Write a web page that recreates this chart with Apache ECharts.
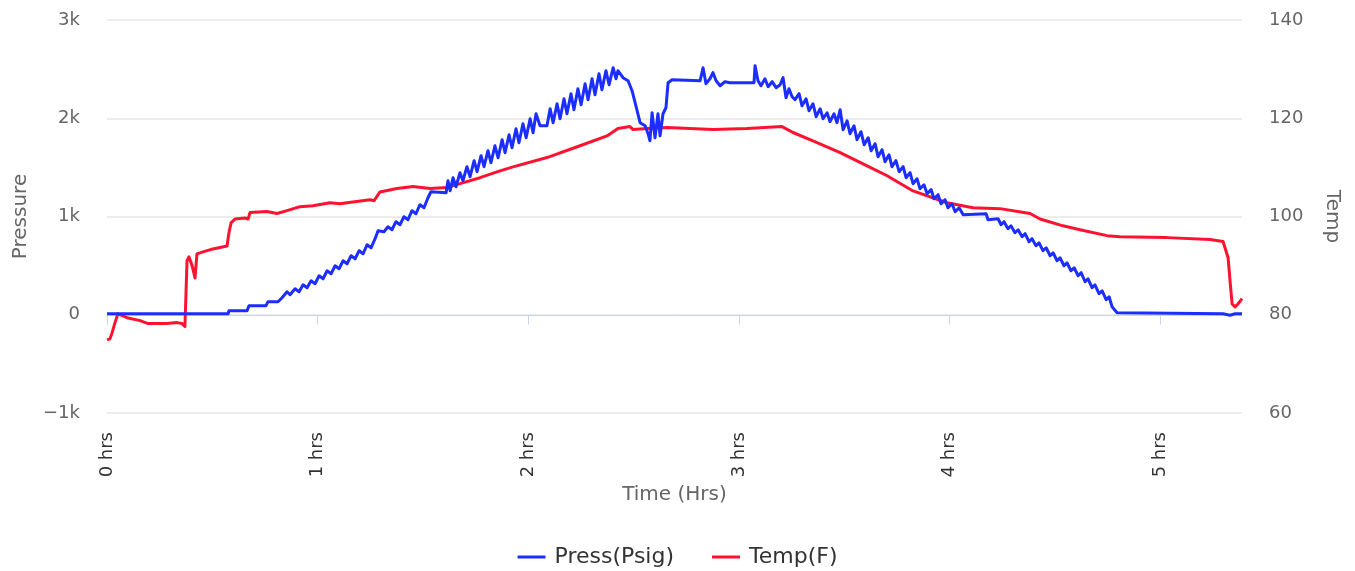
<!DOCTYPE html>
<html>
<head>
<meta charset="utf-8">
<script src="https://cdn.jsdelivr.net/npm/echarts@6/dist/echarts.min.js"></script>
<style>
html,body{margin:0;padding:0;background:#fff;}
#chart{width:1355px;height:571px;}
</style>
</head>
<body>
<div id="chart"></div>
<script>
// ---- data (time in hours) ----
const pressTime = [0,0.575,0.579,0.665,0.674,0.755,0.764,0.812,0.831,0.855,0.869,0.893,0.912,0.931,0.950,0.969,0.988,1.007,1.026,1.045,1.064,1.083,1.102,1.121,1.140,1.159,1.178,1.197,1.216,1.235,1.254,1.273,1.287,1.315,1.334,1.353,1.372,1.391,1.410,1.429,1.448,1.467,1.486,1.505,1.524,1.538,1.610,1.619,1.629,1.643,1.657,1.676,1.690,1.709,1.724,1.743,1.757,1.776,1.790,1.809,1.823,1.842,1.857,1.876,1.890,1.909,1.923,1.942,1.956,1.975,1.990,2.009,2.023,2.037,2.056,2.089,2.104,2.118,2.137,2.151,2.170,2.184,2.203,2.217,2.236,2.251,2.270,2.284,2.303,2.317,2.336,2.350,2.369,2.384,2.403,2.417,2.426,2.450,2.474,2.493,2.517,2.531,2.555,2.569,2.578,2.588,2.602,2.616,2.626,2.640,2.654,2.664,2.683,2.816,2.830,2.844,2.863,2.877,2.892,2.911,2.934,2.958,3.072,3.077,3.091,3.105,3.124,3.139,3.158,3.177,3.196,3.210,3.224,3.238,3.253,3.267,3.286,3.300,3.319,3.333,3.352,3.367,3.386,3.400,3.419,3.433,3.452,3.466,3.481,3.495,3.514,3.528,3.547,3.561,3.580,3.595,3.614,3.628,3.647,3.661,3.680,3.694,3.713,3.727,3.746,3.761,3.780,3.794,3.813,3.827,3.846,3.860,3.879,3.894,3.913,3.927,3.946,3.960,3.979,3.993,4.012,4.027,4.046,4.065,4.174,4.183,4.231,4.245,4.259,4.278,4.292,4.311,4.326,4.345,4.359,4.378,4.392,4.411,4.425,4.444,4.459,4.478,4.492,4.511,4.525,4.544,4.558,4.577,4.592,4.611,4.625,4.644,4.658,4.677,4.691,4.710,4.725,4.744,4.758,4.772,4.796,5.299,5.332,5.356,5.389];
const pressVal = [10,10,41,41,92,92,132,132,173,
234,204,265,234,305,275,346,316,
397,366,448,417,499,468,550,519,
601,570,652,621,713,682,774,855,
845,896,865,947,916,998,967,1059,
1028,1120,1089,1191,1252,1242,1364,1262,1395,1303,
1446,1364,1507,1405,1568,1456,1619,1507,1670,1547,1720,1598,
1782,1649,1832,1700,1893,1751,1944,1802,1995,1853,2046,1924,
1924,
2097,1955,2148,1995,2199,2046,2250,2087,2301,2138,2352,2189,2402,2240,2453,2291,2484,2341,2514,2402,
2484,2413,2382,2280,2077,1955,1924,1843,1771,2056,1802,2046,1822,2046,2107,2362,2392,
2382,2514,2352,2402,2464,2382,2331,2372,2362,
2362,2535,2382,2331,2402,2321,2372,2311,2341,2413,2209,2301,2219,2189,
2250,2127,2199,2077,2148,2016,2097,1995,2056,1965,2046,1955,2087,1883,1974,1843,1924,1782,1863,1731,1802,1670,1741,1608,1680,1558,1629,1507,1568,1456,1507,1395,1446,1334,1384,1283,1323,1232,1273,1181,1222,1130,1171,1089,1130,1048,1089,1018,
1028,967,977,916,947,875,906,835,865,794,825,743,774,702,733,652,682,601,631,550,580,499,529,448,478,397,428,336,366,275,305,214,244,153,183,81,20,
10,-5,10,10];

const tempTime = [0,0.014,0.024,0.038,0.052,0.095,0.157,0.195,0.285,0.332,0.356,0.370,0.380,0.389,0.404,0.418,0.427,0.456,0.503,0.570,0.579,0.589,0.608,0.655,0.670,0.679,0.760,0.807,0.855,0.916,0.978,1.059,1.106,1.140,1.249,1.268,1.296,1.377,1.453,1.534,1.614,1.676,1.771,1.866,1.928,2.089,2.246,2.374,2.426,2.483,2.498,2.564,2.659,2.877,3.039,3.205,3.257,3.352,3.481,3.609,3.704,3.827,3.988,4.112,4.240,4.383,4.430,4.539,4.620,4.748,4.810,5.033,5.237,5.299,5.323,5.332,5.342,5.356,5.370,5.389];
const tempVal = [74.9,75.1,76.3,78.4,80.2,79.4,78.8,78.2,78.2,78.4,78.2,77.6,91.0,91.8,90.0,87.5,92.4,92.8,93.4,94.0,96.7,98.7,99.5,99.7,99.5,100.8,101.0,100.6,101.2,102.0,102.2,102.8,102.6,102.8,103.4,103.2,105.0,105.7,106.1,105.7,105.9,106.7,107.9,109.3,110.1,112.0,114.4,116.4,117.9,118.3,117.7,117.9,118.1,117.7,117.9,118.3,117.1,115.4,113.0,110.3,108.3,105.2,102.8,101.8,101.6,100.6,99.5,98.1,97.3,96.1,95.9,95.7,95.3,94.9,91.6,87.0,82.2,81.6,82.2,83.3];

const xTicks = [0,1,2,3,4,5];
const xTickLabels = ['0 hrs','1 hrs','2 hrs','3 hrs','4 hrs','5 hrs'];
const pressTicks = [-1000,0,1000,2000,3000];
const pressTickLabels = ['\u22121k','0','1k','2k','3k'];
const tempTicks = [60,80,100,120,140];
const seriesNames = ['Press(Psig)','Temp(F)'];

// ---- build ----
const pressData = pressTime.map((t,i)=>[t,pressVal[i]]);
const tempData = tempTime.map((t,i)=>[t,tempVal[i]]);
const FONT = 'DejaVu Sans';
const BLUE = '#1c2eff';
const RED = '#ff1230';

const chart = echarts.init(document.getElementById('chart'), null, {renderer:'canvas'});
chart.setOption({
  animation:false,
  backgroundColor:'#ffffff',
  textStyle:{fontFamily:FONT},
  grid:{left:107,right:113,top:20,bottom:158,containLabel:false,outerBoundsMode:'none'},
  legend:{
    data:seriesNames.map((n,i)=>({name:n,icon:'rect',itemStyle:{color:i?RED:BLUE}})),
    left:'center', top:541,
    itemWidth:28, itemHeight:3, itemGap:38,
    textStyle:{fontFamily:FONT,fontSize:22,color:'#333',padding:[0,0,0,4]}
  },
  xAxis:{
    type:'value', min:0, max:tempTime[tempTime.length-1], interval:1,
    name:'Time (Hrs)', nameLocation:'middle', nameGap:72,
    nameTextStyle:{fontFamily:FONT,fontSize:20,color:'#666'},
    axisLine:{show:true,lineStyle:{color:'#ccd6eb',width:1}},
    axisTick:{show:true,length:10,lineStyle:{color:'#ccd6eb'},customValues:xTicks},
    splitLine:{show:false},
    axisLabel:{
      rotate:90, margin:19, fontFamily:FONT, fontSize:18, color:'#333',
      customValues:xTicks,
      formatter:(v)=>{const i=xTicks.indexOf(Math.round(v*1000)/1000);return i>=0?xTickLabels[i]:'';}
    }
  },
  yAxis:[{
    type:'value', min:pressTicks[0], max:pressTicks[pressTicks.length-1], interval:1000,
    name:'Pressure', nameLocation:'middle', nameGap:76,
    nameTextStyle:{fontFamily:FONT,fontSize:20,color:'#666'},
    axisLine:{show:false}, axisTick:{show:false},
    splitLine:{show:true,lineStyle:{color:'#e6e6e6',width:1.5}},
    axisLabel:{margin:27,fontFamily:FONT,fontSize:18,color:'#666',
      formatter:(v)=>{const i=pressTicks.indexOf(v);return i>=0?pressTickLabels[i]:'';}}
  },{
    type:'value', min:tempTicks[0], max:tempTicks[tempTicks.length-1], interval:20,
    name:'Temp', nameLocation:'middle', nameGap:80, nameRotate:-90,
    nameTextStyle:{fontFamily:FONT,fontSize:20,color:'#666'},
    axisLine:{show:false}, axisTick:{show:false}, splitLine:{show:false},
    axisLabel:{margin:27,fontFamily:FONT,fontSize:18,color:'#666'}
  }],
  series:[{
    name:seriesNames[0], type:'line', yAxisIndex:0, data:pressData,
    showSymbol:false, symbol:'none', z:3,
    lineStyle:{color:BLUE,width:3,join:'round'}, itemStyle:{color:BLUE}
  },{
    name:seriesNames[1], type:'line', yAxisIndex:1, data:tempData,
    showSymbol:false, symbol:'none', z:2,
    lineStyle:{color:RED,width:3,join:'round'}, itemStyle:{color:RED}
  }]
});
</script>
</body>
</html>
